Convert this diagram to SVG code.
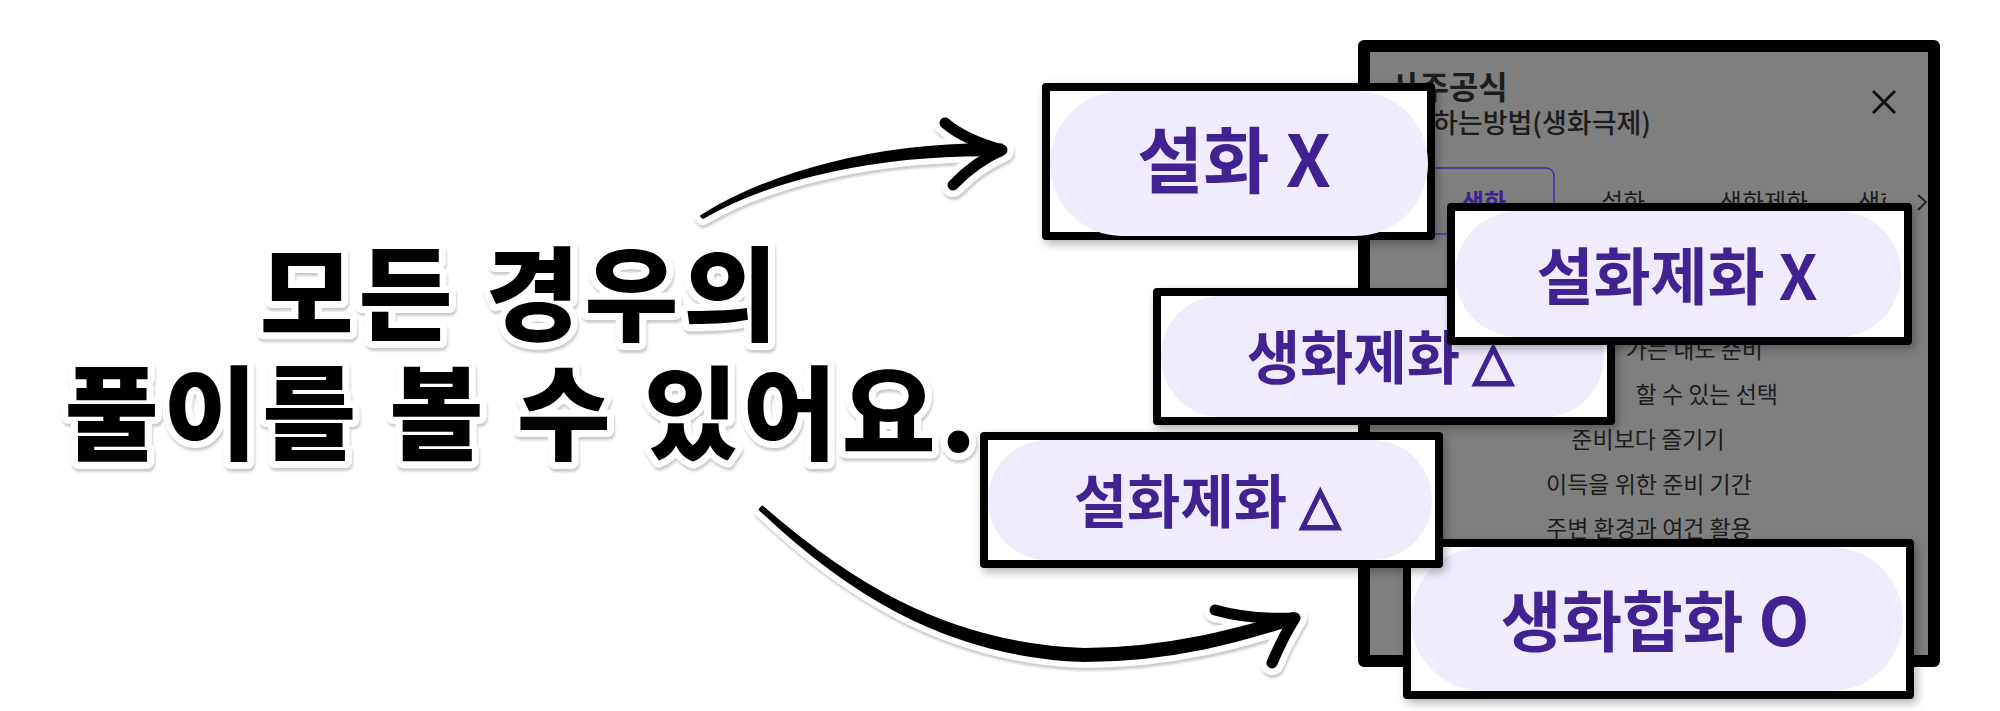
<svg xmlns="http://www.w3.org/2000/svg" width="2000" height="711" viewBox="0 0 2000 711">
<defs>
<style>
.main{font-family:"Noto Sans CJK KR","Noto Sans",sans-serif;font-weight:900;font-size:102px;letter-spacing:5px;fill:#000;stroke:#fff;stroke-width:14px;stroke-linejoin:round;paint-order:stroke;}
.ui{font-family:"Noto Sans CJK KR","Noto Sans",sans-serif;fill:#1c1c1c;}
.lbl{font-family:"Noto Sans CJK KR","Noto Sans",sans-serif;font-weight:700;fill:#3f2290;text-anchor:middle;}
.tri{font-family:"DejaVu Sans",sans-serif;font-weight:700;stroke:#3f2290;stroke-width:2.5px;stroke-linejoin:miter;}
.frame{fill:#fff;stroke:#000;stroke-width:8;stroke-linejoin:round;}
.pill{fill:#f0ecfd;}
.arrow{fill:#000;stroke:#000;stroke-width:2;stroke-linejoin:round;}
.barb{fill:none;stroke:#000;stroke-width:11;stroke-linecap:round;}
.halo{fill:#fff;stroke:#fff;stroke-width:14;stroke-linejoin:round;stroke-linecap:round;}
.halob{fill:none;stroke:#fff;stroke-width:24;stroke-linecap:round;}
</style>
<filter id="sh" x="-10%" y="-20%" width="130%" height="150%">
<feDropShadow dx="3" dy="4" stdDeviation="5" flood-color="#000" flood-opacity="0.3"/>
</filter>
<filter id="ts" x="-5%" y="-10%" width="110%" height="130%">
<feDropShadow dx="1" dy="3" stdDeviation="1" flood-color="#999" flood-opacity="0.5"/>
</filter>
<clipPath id="tabclip"><rect x="1370" y="150" width="516" height="80"/></clipPath>
</defs>
<rect width="2000" height="711" fill="#fff"/>

<g id="panel">
<rect x="1364" y="46" width="570" height="615" fill="#7f7f7f" stroke="#000" stroke-width="12" stroke-linejoin="round"/>
<text class="ui" x="1390" y="99" font-size="32" font-weight="700">사주공식</text>
<text class="ui" x="1433" y="133" font-size="27" font-weight="500">하는방법(생화극제)</text>
<path d="M1873,91 L1895,113 M1895,91 L1873,113" stroke="#111" stroke-width="3" fill="none"/>
<rect x="1405" y="168" width="149" height="66" rx="8" fill="none" stroke="#4a2aa8" stroke-width="1.5"/>
<g clip-path="url(#tabclip)" font-size="24">
<text class="ui" x="1484" y="211" text-anchor="middle" font-weight="700" style="fill:#3f2290">생화</text>
<text class="ui" x="1623" y="211" text-anchor="middle">설화</text>
<text class="ui" x="1764" y="211" text-anchor="middle">생화제화</text>
<text class="ui" x="1858" y="211">생화</text>
</g>
<path d="M1918,195 L1926,202 L1918,210" stroke="#222" stroke-width="2" fill="none"/>
<g font-size="23">
<text class="ui" x="1763" y="358" text-anchor="end">가는 내도 준비</text>
<text class="ui" x="1778" y="403" text-anchor="end">할 수 있는 선택</text>
<text class="ui" x="1648" y="448" text-anchor="middle">준비보다 즐기기</text>
<text class="ui" x="1649" y="493" text-anchor="middle">이득을 위한 준비 기간</text>
<text class="ui" x="1649" y="537" text-anchor="middle">주변 환경과 여건 활용</text>
</g>
</g>

<g id="title" filter="url(#ts)">
<text class="main" x="521" y="333" text-anchor="middle">모든 경우의</text>
<text class="main" x="523" y="452" text-anchor="middle">풀이를 볼 수 있어요.</text>
</g>

<g id="connectors">
<g filter="url(#ts)">
<path class="halo" d="M701,216 C769,173 880,142 1002,144.5 L1002,155.5 C880,153 771,178 703,218 Z"/>
<path class="halob" d="M945,123 Q965,140 1002,150 M953,185 Q975,162 1002,150"/>
<path class="halo" d="M762.3,506.5 C842,576 941,644 1084,649 C1168,649 1238,629 1293.5,613 L1296.5,623 C1242,641 1172,661 1084,661 C939,656 838,584 759.7,509.5 Z"/>
<path class="halob" d="M1215,610 Q1250,620 1295,618 M1272,663 Q1283,637 1295,618"/>
</g>
<path class="arrow" d="M701,216 C769,173 880,142 1002,144.5 L1002,155.5 C880,153 771,178 703,218 Z"/>
<path class="barb" d="M945,123 Q965,140 1002,150 M953,185 Q975,162 1002,150"/>
<path class="arrow" d="M762.3,506.5 C842,576 941,644 1084,649 C1168,649 1238,629 1293.5,613 L1296.5,623 C1242,641 1172,661 1084,661 C939,656 838,584 759.7,509.5 Z"/>
<path class="barb" d="M1215,610 Q1250,620 1295,618 M1272,663 Q1283,637 1295,618"/>
</g>

<g id="box-seolhwa-x" filter="url(#sh)">
<rect class="frame" x="1046" y="87" width="385" height="149"/>
<rect class="pill" x="1050" y="91" width="378" height="145" rx="72"/>
<text class="lbl" x="1234" y="187" font-size="72">설화 X</text>
</g>

<g id="box-saenghwajehwa-tri" filter="url(#sh)">
<rect class="frame" x="1157" y="292" width="454" height="129"/>
<rect class="pill" x="1161" y="296" width="443" height="121" rx="60"/>
<text class="lbl" x="1380" y="379" font-size="58">생화제화 <tspan class="tri" font-size="52">△</tspan></text>
</g>

<g id="box-seolhwajehwa-x" filter="url(#sh)">
<rect class="frame" x="1451" y="207" width="457" height="134"/>
<rect class="pill" x="1455" y="211" width="446" height="126" rx="63"/>
<text class="lbl" x="1677" y="300" font-size="62">설화제화 X</text>
</g>

<g id="box-saenghwahaphwa-o" filter="url(#sh)">
<rect class="frame" x="1407" y="543" width="503" height="152"/>
<rect class="pill" x="1411" y="547" width="492" height="144" rx="72"/>
<text class="lbl" x="1655" y="646" font-size="66">생화합화 O</text>
</g>

<g id="box-seolhwajehwa-tri" filter="url(#sh)">
<rect class="frame" x="984" y="436" width="455" height="128"/>
<rect class="pill" x="988" y="440" width="444" height="120" rx="60"/>
<text class="lbl" x="1207" y="523" font-size="58">설화제화 <tspan class="tri" font-size="52">△</tspan></text>
</g>
</svg>
